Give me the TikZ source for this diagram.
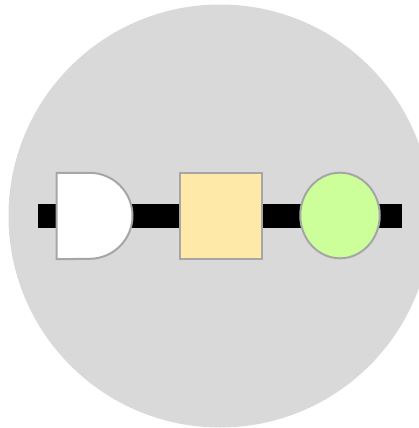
\documentclass[tikz,border=0pt]{standalone}
\usetikzlibrary{shapes.geometric}
\definecolor{discgrey}{HTML}{D9D9D9}
\definecolor{edgegrey}{HTML}{A6A6A6}
\definecolor{paleyellow}{HTML}{FFE9A8}
\definecolor{palegreen}{HTML}{CCFF99}
\tikzset{
  part/.style={draw=edgegrey, line width=2pt, inner sep=0pt},
  rail/.style={line width=24pt, line cap=butt, black},
}
\begin{document}
\begin{tikzpicture}[x=1pt,y=-1pt]
  \useasboundingbox (0,0) rectangle (419,428);
  \clip (0,0) rectangle (419,428);
  % backdrop disc
  \fill[discgrey] (220,216) circle[radius=211.5];
  % rail ends
  \coordinate (railL) at (38.3,215.5);
  \coordinate (railR) at (401.7,215.5);
  \draw[rail] (railL) -- (railR);
  % D-shaped part: flat left side, half-disc on the right
  \node[rectangle, inner sep=0pt, minimum width=76pt, minimum height=86pt] (dpart) at (94.7,216) {};
  \draw[part, fill=white, line join=round] (dpart.north west) -- ++(33,0)
        arc[start angle=-90, end angle=90, radius=43] -- (dpart.south west) -- cycle;
  \node[part, fill=paleyellow, rectangle,
        minimum width=82pt, minimum height=86pt] (sq) at (220.6,215.6) {};
  \node[part, fill=palegreen, ellipse,
        minimum width=79.5pt, minimum height=85.6pt] (ov) at (340,215.5) {};
\end{tikzpicture}
\end{document}
